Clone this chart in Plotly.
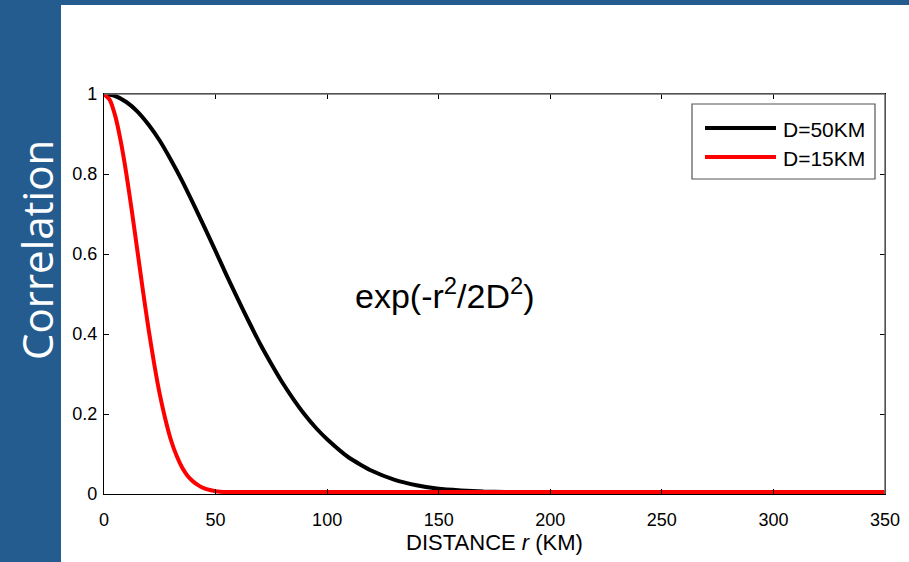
import plotly.graph_objects as go

# ---- data ----
r_d50 = [0, 5, 10, 15, 20, 25, 30, 35, 40, 45, 50, 55, 60, 65, 70, 75, 80, 85, 90, 95, 100,
         110, 120, 130, 140, 150, 160, 170, 180, 200, 250, 300, 350]
c_d50 = [1.0, 0.995, 0.98, 0.956, 0.923, 0.883, 0.835, 0.783, 0.726, 0.667, 0.607, 0.546, 0.487,
         0.43, 0.375, 0.325, 0.278, 0.236, 0.198, 0.165, 0.137, 0.09, 0.058, 0.036, 0.022, 0.013,
         0.009, 0.006, 0.005, 0.005, 0.005, 0.005, 0.005]

r_d15 = [0, 2.5, 5, 7.5, 10, 12.5, 15, 17.5, 20, 22.5, 25, 27.5, 30, 32.5, 35, 37.5, 40, 42.5, 45,
         47.5, 50, 55, 60, 100, 200, 350]
c_d15 = [1.0, 0.986, 0.946, 0.882, 0.801, 0.707, 0.607, 0.506, 0.411, 0.325, 0.249, 0.187, 0.135,
         0.096, 0.066, 0.045, 0.031, 0.021, 0.014, 0.01, 0.007, 0.005, 0.005, 0.005, 0.005, 0.005]

series_names = ["D=50KM", "D=15KM"]
x_ticks = [0, 50, 100, 150, 200, 250, 300, 350]
y_ticks = [0, 0.2, 0.4, 0.6, 0.8, 1]
y_tick_labels = ["0", "0.2", "0.4", "0.6", "0.8", "1"]
x_title = "DISTANCE <i>r</i> (KM)"
side_title = "Correlation"
formula = "exp(-r<sup>2</sup>/2D<sup>2</sup>)"

W, H = 909, 562
L, R, T, B = 104, 885, 94, 494  # plot area in pixels
BLUE = "#255C90"
FONT = "Liberation Sans, Arial, Helvetica, sans-serif"


def px(xp):
    return (xp - L) / (R - L)


def py(yp):
    return (B - yp) / (B - T)


fig = go.Figure()
fig.add_trace(go.Scatter(x=r_d50, y=c_d50, mode="lines", name=series_names[0],
                         line=dict(color="black", width=4, shape="spline", smoothing=0.5),
                         showlegend=False))
fig.add_trace(go.Scatter(x=r_d15, y=c_d15, mode="lines", name=series_names[1],
                         line=dict(color="#FF0000", width=4, shape="spline", smoothing=0.5),
                         showlegend=False))

shapes = [
    # slide decorations
    dict(type="rect", xref="paper", yref="paper", x0=px(0), x1=px(61), y0=py(W), y1=py(0),
         fillcolor=BLUE, line=dict(width=0), layer="below"),
    dict(type="rect", xref="paper", yref="paper", x0=px(0), x1=px(W + 5), y0=py(5), y1=py(0),
         fillcolor=BLUE, line=dict(width=0), layer="below"),
    # gray top / right box edges
    dict(type="line", xref="paper", yref="paper", x0=0, x1=1, y0=1, y1=1,
         line=dict(color="#6E6E6E", width=1.5)),
    dict(type="line", xref="paper", yref="paper", x0=1, x1=1, y0=0, y1=1,
         line=dict(color="#6E6E6E", width=1.5)),
    # legend box
    dict(type="rect", xref="paper", yref="paper", x0=px(692), x1=px(875), y0=py(179), y1=py(104),
         fillcolor="white", line=dict(color="#555555", width=1.2)),
    dict(type="line", xref="paper", yref="paper", x0=px(705), x1=px(776), y0=py(128), y1=py(128),
         line=dict(color="black", width=4)),
    dict(type="line", xref="paper", yref="paper", x0=px(705), x1=px(776), y0=py(157), y1=py(157),
         line=dict(color="#FF0000", width=4)),
]

annotations = [
    dict(text=side_title, xref="paper", yref="paper", x=px(36), y=py(250), textangle=-90,
         showarrow=False, xanchor="center", yanchor="middle",
         font=dict(family="Open Sans, Noto Sans, sans-serif", size=42, color="white")),
    dict(text=formula, xref="paper", yref="paper", x=px(445), y=py(293),
         showarrow=False, xanchor="center", yanchor="middle",
         font=dict(family=FONT, size=34, color="black")),
    dict(text=series_names[0], xref="paper", yref="paper", x=px(781), y=py(129),
         showarrow=False, xanchor="left", yanchor="middle",
         font=dict(family=FONT, size=21, color="black")),
    dict(text=series_names[1], xref="paper", yref="paper", x=px(781), y=py(158),
         showarrow=False, xanchor="left", yanchor="middle",
         font=dict(family=FONT, size=21, color="black")),
]

fig.update_layout(
    width=W, height=H,
    margin=dict(l=L, r=W - R, t=T, b=H - B, autoexpand=False),
    paper_bgcolor="white", plot_bgcolor="white",
    shapes=shapes, annotations=annotations,
    font=dict(family=FONT, size=18, color="black"),
)
fig.update_xaxes(range=[0, 350], tickvals=x_ticks, ticks="inside", ticklen=5, tickcolor="black",
                 showline=True, linecolor="black", linewidth=1.2, mirror="ticks",
                 showgrid=False, zeroline=False, tickfont=dict(size=18), ticklabelstandoff=9,
                 title=dict(text=x_title, font=dict(size=22), standoff=4))
fig.update_yaxes(range=[0, 1], tickvals=y_ticks, ticktext=y_tick_labels, ticks="inside", ticklen=5,
                 tickcolor="black", showline=True, linecolor="black", linewidth=1.2, mirror="ticks",
                 showgrid=False, zeroline=False, tickfont=dict(size=18), ticklabelstandoff=2)

fig.write_html("out.html")
